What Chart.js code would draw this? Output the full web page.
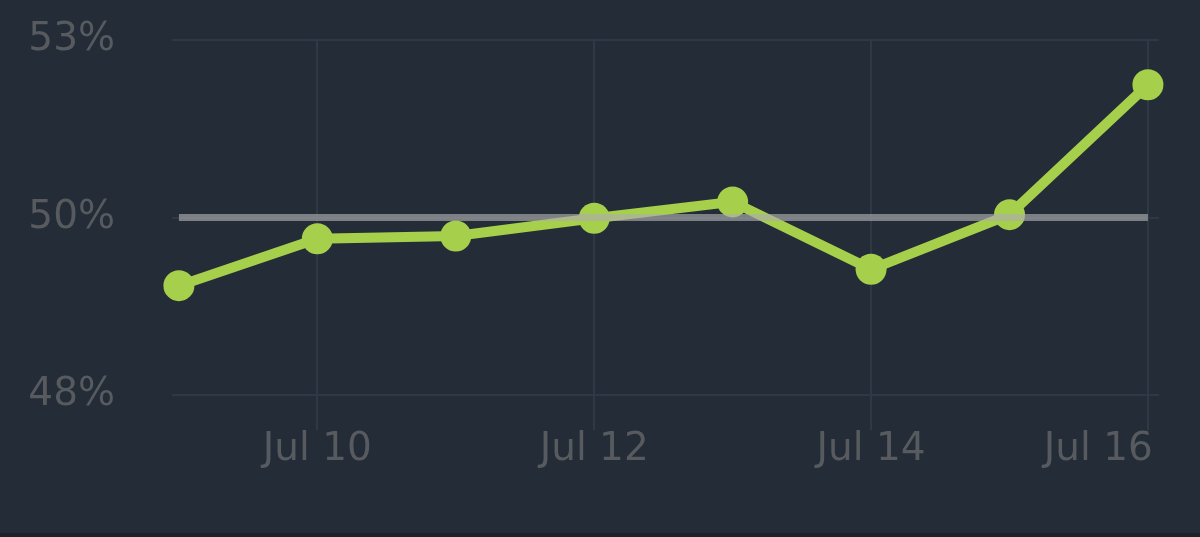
<!DOCTYPE html>
<html>
<head>
<meta charset="utf-8">
<script src="https://cdn.jsdelivr.net/npm/chart.js@4/dist/chart.umd.min.js"></script>
<style>
  html, body { margin: 0; padding: 0; background: #1b2229; }
  #wrap { position: relative; width: 1200px; height: 533px; background: #232c37; }
</style>
</head>
<body>
<div id="wrap"><canvas id="chart"></canvas></div>
<script>
// days of July, one point per day
var days = [9, 10, 11, 12, 13, 14, 15, 16];
var winRate = [49.04, 49.70, 49.74, 49.99, 50.22, 49.27, 50.04, 51.87];
var refLevel = 50;

var xTicks = [10, 12, 14, 16];
var xLabels = ['Jul 10', 'Jul 12', 'Jul 14', 'Jul 16        '];
var yTicks = [47.5, 50, 52.5];

var green = '#a6cf4c';
var textGray = '#575a5e';
var gridColor = '#2f3945';

var lineData = days.map(function (d, i) { return { x: d, y: winRate[i] }; });
var refData = [{ x: days[0], y: refLevel }, { x: days[days.length - 1], y: refLevel }];

var ctx = document.getElementById('chart').getContext('2d');
new Chart(ctx, {
  type: 'line',
  data: {
    datasets: [{
      data: refData,
      borderColor: 'rgba(172,172,172,0.65)',
      borderWidth: 7,
      pointRadius: 0,
      clip: false,
      order: 0
    }, {
      data: lineData,
      borderColor: green,
      borderWidth: 10,
      pointRadius: 15.5,
      pointBorderWidth: 0,
      pointBackgroundColor: green,
      tension: 0,
      clip: false,
      order: 1
    }]
  },
  options: {
    animation: false,
    responsive: true,
    maintainAspectRatio: false,
    layout: { padding: { top: 40, right: 41, left: 0, bottom: 0 } },
    plugins: { legend: { display: false }, tooltip: { enabled: false } },
    scales: {
      x: {
        type: 'linear',
        min: 8.95,
        max: 16.08,
        afterBuildTicks: function (s) { s.ticks = xTicks.map(function (v) { return { value: v }; }); },
        afterFit: function (s) { s.height = 138; s.paddingLeft = 0; s.paddingRight = 0; },
        grid: { color: gridColor, lineWidth: 2, tickLength: 35, drawTicks: true },
        border: { display: false },
        ticks: {
          autoSkip: false,
          maxRotation: 0,
          minRotation: 0,
          padding: 0,
          color: textGray,
          font: { family: 'DejaVu Sans', size: 39, lineHeight: 1 },
          callback: function (v) { return xLabels[xTicks.indexOf(v)]; }
        }
      },
      y: {
        min: 47.5,
        max: 52.5,
        afterBuildTicks: function (s) { s.ticks = yTicks.map(function (v) { return { value: v }; }); },
        afterFit: function (s) { s.width = 172; s.paddingTop = 0; s.paddingBottom = 0; },
        grid: { color: gridColor, lineWidth: 2, drawTicks: false },
        border: { display: false },
        ticks: {
          padding: 57,
          color: textGray,
          font: { family: 'DejaVu Sans', size: 39, lineHeight: 1 },
          callback: function (v) { return Math.round(v) + '%'; }
        }
      }
    }
  }
});
</script>
</body>
</html>
